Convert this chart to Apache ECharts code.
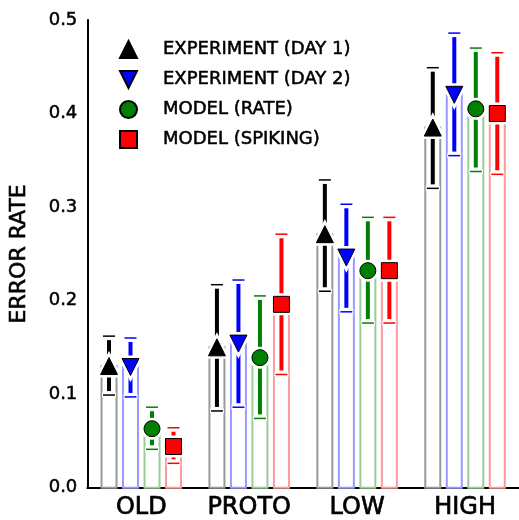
<!DOCTYPE html>
<html>
<head>
<meta charset="utf-8">
<script src="https://cdn.jsdelivr.net/npm/echarts@6/dist/echarts.min.js"></script>
<style>
html, body { margin: 0; padding: 0; background: #fff; }
#main { width: 519px; height: 520px; }
</style>
</head>
<body>
<div id="main"></div>
<script>
var categories = ['OLD', 'PROTO', 'LOW', 'HIGH'];
var seriesNames = ['EXPERIMENT (DAY 1)', 'EXPERIMENT (DAY 2)', 'MODEL (RATE)', 'MODEL (SPIKING)'];

// error rate (marker), lower and upper error bar ends, per category
var day1Mean = [0.130, 0.150, 0.271, 0.385];
var day1Low  = [0.099, 0.082, 0.210, 0.320];
var day1High = [0.162, 0.217, 0.329, 0.449];

var day2Mean = [0.129, 0.154, 0.246, 0.420];
var day2Low  = [0.097, 0.086, 0.188, 0.355];
var day2High = [0.160, 0.222, 0.303, 0.486];

var rateMean = [0.063, 0.139, 0.232, 0.405];
var rateLow  = [0.041, 0.074, 0.176, 0.338];
var rateHigh = [0.086, 0.205, 0.289, 0.470];

var spikeMean = [0.044, 0.196, 0.232, 0.400];
var spikeLow  = [0.026, 0.121, 0.176, 0.335];
var spikeHigh = [0.064, 0.271, 0.289, 0.465];

var yTicks = [0, 0.1, 0.2, 0.3, 0.4, 0.5];

var means = [day1Mean, day2Mean, rateMean, spikeMean];
var lows = [day1Low, day2Low, rateLow, spikeLow];
var highs = [day1High, day2High, rateHigh, spikeHigh];

var colors = ['#000000', '#0000ff', '#008000', '#ff0000'];
var barColors = ['#999999', '#9999ff', '#99cc99', '#ff9999'];
var shapes = ['up', 'down', 'circle', 'square'];
var offsets = [-32.25, -10.75, 10.75, 32.25];
var FONT = 'DejaVu Sans';

function markerShape(kind, x, y, r) {
    if (kind === 'up') {
        return { type: 'polygon', shape: { points: [[x, y - r], [x - r, y + r], [x + r, y + r]] } };
    }
    if (kind === 'down') {
        return { type: 'polygon', shape: { points: [[x, y + r], [x - r, y - r], [x + r, y - r]] } };
    }
    if (kind === 'circle') {
        return { type: 'circle', shape: { cx: x, cy: y, r: r - 0.5 } };
    }
    return { type: 'rect', shape: { x: x - r + 0.5, y: y - r + 0.5, width: 2 * r - 1, height: 2 * r - 1 } };
}

function makeRender(k) {
    return function (params, api) {
        var ci = api.value(0);
        var base = api.coord([ci, 0]);
        var x = base[0] + offsets[k];
        var y0 = base[1];
        var ym = api.coord([ci, api.value(1)])[1];
        var yl = api.coord([ci, api.value(2)])[1];
        var yh = api.coord([ci, api.value(3)])[1];
        var kids = [];
        // bar outline
        kids.push({ type: 'rect', shape: { x: x - 7.5, y: ym, width: 15, height: y0 - ym },
            style: { fill: '#fff', stroke: barColors[k], lineWidth: 2 } });
        // error bar with white halo
        kids.push({ type: 'line', shape: { x1: x, y1: yh, x2: x, y2: yl },
            style: { stroke: '#fff', lineWidth: 8 } });
        kids.push({ type: 'line', shape: { x1: x, y1: yh + 4, x2: x, y2: yl - 4 },
            style: { stroke: colors[k], lineWidth: 4 } });
        [yh, yl].forEach(function (yc) {
            kids.push({ type: 'line', shape: { x1: x - 7, y1: yc, x2: x + 7, y2: yc },
                style: { stroke: '#fff', lineWidth: 5 } });
            kids.push({ type: 'line', shape: { x1: x - 6, y1: yc, x2: x + 6, y2: yc },
                style: { stroke: colors[k], lineWidth: 1.5 } });
        });
        // marker with white halo
        var halo = markerShape(shapes[k], x, ym, 8.5);
        halo.style = { fill: '#fff', stroke: '#fff', lineWidth: 6 };
        kids.push(halo);
        var m = markerShape(shapes[k], x, ym, 8.5);
        m.style = { fill: colors[k], stroke: '#000', lineWidth: 1 };
        kids.push(m);
        return { type: 'group', children: kids };
    };
}

var series = [];
for (var k = 0; k < 4; k++) {
    var data = [];
    for (var i = 0; i < categories.length; i++) {
        data.push([i, means[k][i], lows[k][i], highs[k][i]]);
    }
    series.push({
        name: seriesNames[k],
        type: 'custom',
        renderItem: makeRender(k),
        itemStyle: { color: colors[k], borderColor: '#000', borderWidth: 1 },
        encode: { x: 0, y: [1, 2, 3] },
        data: data,
        z: 2 + k
    });
}

var legendIcons = ['triangle', 'path://M0,0L10,0L5,10Z', 'circle', 'rect'];

var myChart = echarts.init(document.getElementById('main'), null, { renderer: 'canvas' });
var option = {
    animation: false,
    backgroundColor: '#fff',
    textStyle: { fontFamily: FONT },
    grid: { left: 85, top: 20, bottom: 31, width: 436 },
    legend: {
        orient: 'vertical',
        left: 114,
        top: 35,
        itemWidth: 17,
        itemHeight: 17,
        itemGap: 11,
        data: seriesNames.map(function (n, k) { return { name: n, icon: legendIcons[k] }; }),
        textStyle: { fontFamily: FONT, fontSize: 18, lineHeight: 17, color: '#000',
            textBorderColor: '#000', textBorderWidth: 0.5, padding: [0, 0, 0, 21] }
    },
    xAxis: {
        type: 'category',
        data: categories,
        axisLine: { lineStyle: { color: '#000', width: 2 } },
        axisTick: { show: false },
        axisLabel: { fontFamily: FONT, fontSize: 24, color: '#000', margin: 8, interval: 0,
            textBorderColor: '#000', textBorderWidth: 0.7 }
    },
    yAxis: {
        type: 'value',
        min: yTicks[0],
        max: yTicks[yTicks.length - 1],
        interval: 0.1,
        name: 'ERROR RATE',
        nameLocation: 'middle',
        nameRotate: 90,
        nameGap: 57,
        nameTextStyle: { fontFamily: FONT, fontSize: 22, color: '#000',
            textBorderColor: '#000', textBorderWidth: 0.6 },
        axisLine: { show: true, lineStyle: { color: '#000', width: 2 } },
        axisTick: { show: false },
        splitLine: { show: false },
        axisLabel: {
            fontFamily: FONT, fontSize: 18, color: '#000', margin: 10,
            textBorderColor: '#000', textBorderWidth: 0.5,
            formatter: function (v) { return v.toFixed(1); }
        }
    },
    series: series
};
myChart.setOption(option);
</script>
</body>
</html>
